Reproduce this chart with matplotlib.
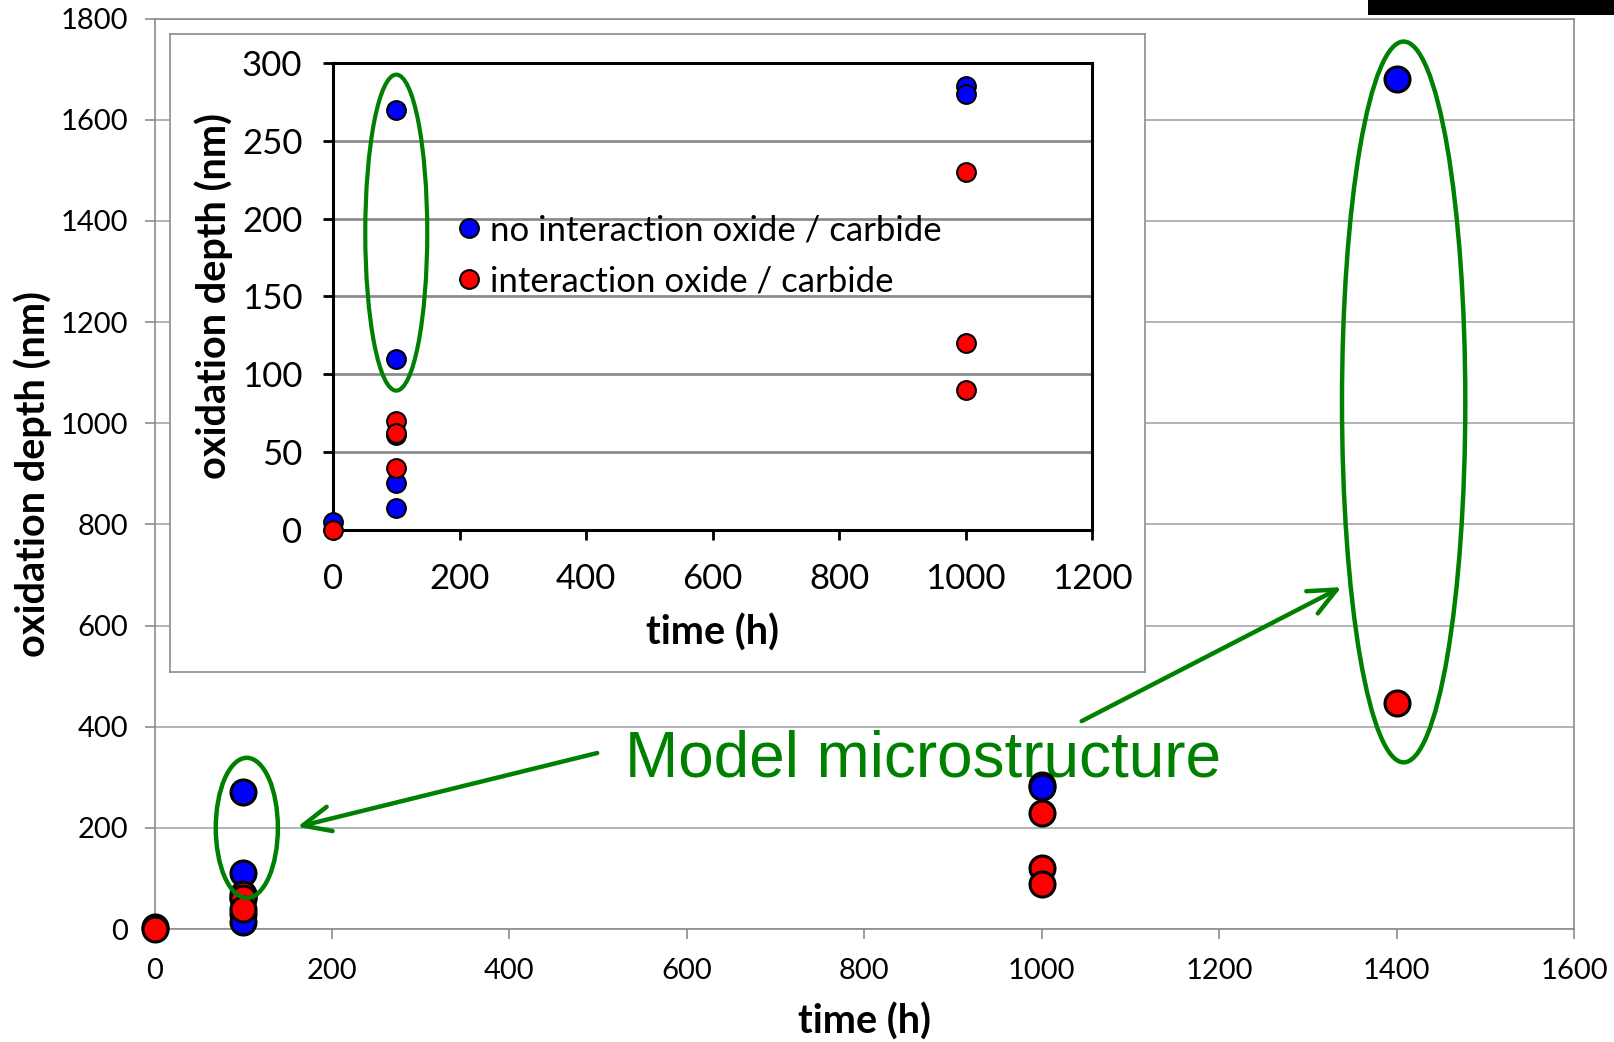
import matplotlib
matplotlib.use("Agg")
import matplotlib.pyplot as plt
from matplotlib.patches import Ellipse, Rectangle
from matplotlib.lines import Line2D

plt.rcParams['font.family'] = ['Lato', 'DejaVu Sans']

# ---- data (oxidation depth in nm vs time in h) ----
blue_time = [0, 100, 100, 100, 100, 100, 1000, 1000, 1400]
blue_depth = [5, 270, 110, 61, 30, 14, 285, 280, 1680]
red_time = [0, 100, 100, 100, 1000, 1000, 1000, 1400]
red_depth = [0, 70, 62, 40, 230, 120, 90, 446]

inset_blue_time = [0, 100, 100, 100, 100, 100, 1000, 1000]
inset_blue_depth = [5, 270, 110, 61, 30, 14, 285, 280]
inset_red_time = [0, 100, 100, 100, 1000, 1000, 1000]
inset_red_depth = [0, 70, 62, 40, 230, 120, 90]

legend_labels = ["no interaction oxide / carbide", "interaction oxide / carbide"]
main_xticks = [0, 200, 400, 600, 800, 1000, 1200, 1400, 1600]
main_yticks = [0, 200, 400, 600, 800, 1000, 1200, 1400, 1600, 1800]
inset_xticks = [0, 200, 400, 600, 800, 1000, 1200]
inset_yticks = [0, 50, 100, 150, 200, 250, 300]
annotation = "Model microstructure"

GREEN = '#008000'
BLUE = '#0000FF'
RED = '#FF0000'

fig = plt.figure(figsize=(16.15, 10.42), dpi=100)
fig.patch.set_facecolor('white')

# ---- main axes ----
ax = fig.add_axes([0.0957, 0.1084, 0.8789, 0.8738])
ax.set_xlim(0, 1600)
ax.set_ylim(0, 1800)
ax.set_xticks(main_xticks)
ax.set_yticks(main_yticks)
ax.grid(axis='y', color='#a6a6a6', lw=1.2, zorder=0)
ax.set_axisbelow(True)
for s in ax.spines.values():
    s.set_color('#8c8c8c')
    s.set_linewidth(1.2)
ax.tick_params(axis='both', colors='#8c8c8c', labelcolor='black', labelsize=21,
               length=7, width=1.2, direction='out')
ax.tick_params(axis='x', pad=14)
ax.tick_params(axis='y', pad=12)
ax.set_xlabel("time (h)", fontsize=28.5, fontweight='bold', labelpad=13)
ax.set_ylabel("oxidation depth (nm)", fontsize=28.5, fontweight='bold', labelpad=6)

ax.scatter(blue_time, blue_depth, s=18**2, c=BLUE, edgecolors='black', linewidths=2.2,
           zorder=3, clip_on=False)
ax.scatter(red_time, red_depth, s=18**2, c=RED, edgecolors='black', linewidths=2.2,
           zorder=3, clip_on=False)

ax.add_patch(Ellipse((104, 200), 70, 277, fill=False, edgecolor=GREEN, lw=3.2, zorder=4))
ax.add_patch(Ellipse((1408, 1042), 139, 1425, fill=False, edgecolor=GREEN, lw=3.2, zorder=4,
                     clip_on=False))

ax.text(530, 336, annotation, color=GREEN, fontsize=46, ha='left', va='center',
        family='Liberation Sans', zorder=2)
aprops = dict(arrowstyle='->, head_length=1.0, head_width=0.45', lw=3.2, color=GREEN,
              mutation_scale=20, shrinkA=0, shrinkB=0)
ax.annotate('', xy=(161, 202), xytext=(499, 348), arrowprops=aprops, zorder=4)
ax.annotate('', xy=(1338, 676), xytext=(1045, 411), arrowprops=aprops, zorder=4)

# ---- inset chart area box ----
box = fig.add_axes([0.1053, 0.3551, 0.6037, 0.6123])
box.set_xticks([])
box.set_yticks([])
box.set_facecolor('white')
for s in box.spines.values():
    s.set_color('#8c8c8c')
    s.set_linewidth(1.2)
box.set_zorder(5)

# ---- inset axes ----
axi = fig.add_axes([0.2062, 0.4914, 0.47, 0.4482])
axi.set_zorder(6)
axi.set_xlim(0, 1200)
axi.set_ylim(0, 300)
axi.set_xticks(inset_xticks)
axi.set_yticks(inset_yticks)
axi.grid(axis='y', color='#8c8c8c', lw=2, zorder=0)
axi.set_axisbelow(True)
for s in axi.spines.values():
    s.set_color('black')
    s.set_linewidth(2.2)
axi.tick_params(axis='both', colors='black', labelsize=25, length=7, width=2, direction='out')
axi.tick_params(axis='x', pad=17)
axi.tick_params(axis='y', pad=15)
axi.set_xlabel("time (h)", fontsize=28.5, fontweight='bold', labelpad=13)
axi.set_ylabel("oxidation depth (nm)", fontsize=28.5, fontweight='bold', labelpad=6)

axi.scatter(inset_blue_time, inset_blue_depth, s=13.5**2, c=BLUE, edgecolors='black',
            linewidths=1.5, zorder=3, clip_on=False)
axi.scatter(inset_red_time, inset_red_depth, s=13.5**2, c=RED, edgecolors='black',
            linewidths=1.5, zorder=3, clip_on=False)
axi.add_patch(Ellipse((100, 191), 98, 203, fill=False, edgecolor=GREEN, lw=3, zorder=4))

handles = [Line2D([], [], ls='none', marker='o', ms=13.5, mfc=BLUE, mec='black', mew=1.5),
           Line2D([], [], ls='none', marker='o', ms=13.5, mfc=RED, mec='black', mew=1.5)]
leg = axi.legend(handles, legend_labels, loc='center left', bbox_to_anchor=(0.1655, 0.587),
                 frameon=False, fontsize=25, handlelength=0.6, handletextpad=0.3,
                 labelspacing=0.56, borderaxespad=0, borderpad=0)

# ---- black bar at top right ----
fig.patches.append(Rectangle((0.847, 0.9856), 0.153, 0.0144, transform=fig.transFigure,
                             facecolor='black', edgecolor='none', zorder=10))

fig.savefig('out.png', dpi=100, facecolor='white')
